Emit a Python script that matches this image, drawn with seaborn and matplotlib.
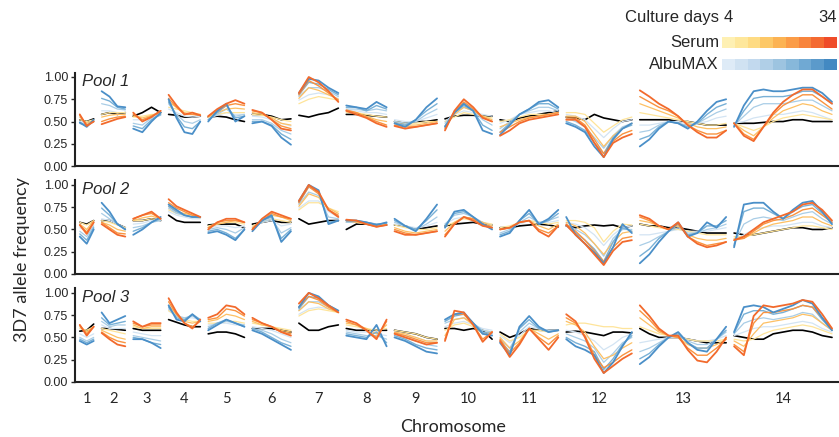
import numpy as np
import pandas as pd
import seaborn as sns
import matplotlib.pyplot as plt
from matplotlib.colors import ListedColormap

# chromosomes of P. falciparum, lengths in Mb
chromosomes = list(range(1, 15))
chrom_length_mb = [0.640, 0.947, 1.067, 1.200, 1.344, 1.418, 1.446,
                   1.473, 1.542, 1.688, 2.039, 2.272, 2.926, 3.292]
culture_days = [4, 14, 24, 34]

# 3D7 allele frequency (%) along each chromosome, one inner list per chromosome
# ---- Pool 1 ----
p1_black = [[52,50,53],[58,60,58,60],[56,60,66,60],[58,57,55,55,56],[55,56,55,52,50],[58,58,56,52,53],[57,55,58,60,65],[58,58,57,56,55],[50,48,50,50,52],[53,56,57,57,56,56],[52,50,54,56,58,60,62],[55,54,52,58,54,52,50,52],[52,52,52,52,50,50,48,46,46,46],[48,48,48,49,50,50,52,52,50,50,50]]
p1_serum_d4 = [[52,50,52],[58,60,60,60],[55,56,58,58],[66,64,62,60,58],[55,58,60,60,60],[58,57,55,52,50],[70,75,78,76,74],[60,60,58,56,55],[50,48,48,50,50],[50,55,60,58,56,54],[50,52,55,58,58,58,60],[60,60,58,48,38,45,52,55],[60,58,56,54,52,50,48,46,46,48],[48,44,40,44,50,54,56,58,56,54,52]]
p1_serum_d14 = [[55,48,51],[55,57,58,58],[56,54,57,60],[72,66,60,58,58],[55,60,64,65,64],[60,58,54,48,46],[76,88,85,80,75],[62,60,56,52,50],[48,46,46,48,50],[45,58,66,62,56,52],[44,48,52,55,56,58,60],[56,56,50,36,22,34,42,48],[70,66,62,58,54,48,44,42,42,44],[48,40,34,44,54,62,66,70,68,62,58]]
p1_serum_d24 = [[57,46,50],[50,53,55,56],[58,52,56,62],[76,66,58,58,57],[56,62,68,70,68],[62,60,52,45,42],[80,96,90,82,74],[63,60,55,50,46],[46,44,44,46,48],[42,60,72,64,55,50],[38,44,50,54,56,58,60],[54,54,46,30,14,28,36,40],[78,72,66,62,56,46,40,36,36,40],[48,36,30,44,58,68,74,80,80,72,64]]
p1_serum_d34 = [[58,45,50],[47,50,53,55],[60,50,55,62],[80,68,58,60,57],[56,64,70,74,70],[63,60,52,42,40],[82,100,94,84,72],[62,58,54,48,44],[45,42,44,46,48],[40,62,75,66,54,50],[34,40,48,52,54,56,58],[52,52,44,26,10,26,32,36],[85,78,70,64,56,46,38,32,32,40],[48,34,28,44,60,72,80,86,86,78,70]]
p1_albu_d4 = [[50,48,51],[62,62,60,60],[52,52,56,57],[64,60,56,55,56],[54,57,60,58,58],[56,55,52,48,45],[74,80,82,80,76],[62,62,60,60,58],[52,50,50,54,58],[50,58,62,60,58,56],[48,52,58,60,62,62,60],[58,56,52,42,32,42,50,52],[46,46,48,50,50,48,48,50,54,56],[48,50,54,56,58,58,60,62,60,56,52]]
p1_albu_d14 = [[49,46,50],[70,68,64,63],[48,46,54,57],[70,58,50,48,52],[52,58,64,56,58],[52,52,48,40,36],[78,88,88,84,78],[64,64,62,64,62],[50,48,50,58,64],[48,60,66,62,52,46],[42,50,58,62,66,66,62],[54,50,44,32,20,34,44,48],[38,40,46,50,48,46,48,54,60,64],[46,56,66,70,70,70,72,74,74,68,62]]
p1_albu_d24 = [[48,45,50],[76,73,66,64],[45,42,52,58],[72,56,44,42,50],[52,60,68,54,56],[50,50,46,36,30],[80,94,92,86,80],[66,66,62,68,64],[48,46,52,62,70],[45,60,68,62,46,40],[38,48,58,64,70,70,64],[50,46,40,26,14,32,42,46],[30,34,44,50,48,44,48,58,66,70],[45,62,76,78,78,78,80,84,84,78,70]]
p1_albu_d34 = [[49,44,52],[84,78,67,66],[42,38,50,60],[75,54,38,36,50],[50,62,70,50,56],[48,50,45,32,24],[82,98,96,88,82],[68,66,64,72,66],[48,44,52,66,76],[44,60,70,62,40,36],[35,46,58,64,72,74,66],[48,44,38,22,10,30,42,48],[22,30,42,50,48,42,50,62,72,75],[44,68,84,86,84,84,86,88,88,82,72]]

# ---- Pool 2 ----
p2_black = [[58,56,60],[60,60,56,52],[60,60,62,60],[66,60,58,58,58],[55,56,56,56,52],[56,58,60,58,58],[62,56,58,60,60],[50,56,56,55,55],[55,54,50,52,54],[54,56,57,58,56,55],[52,52,54,55,56,55,53],[54,52,54,55,54,55,52,54],[56,54,54,52,52,50,48,46,46,46],[46,44,44,46,48,50,52,52,50,50,52]]
p2_serum_d4 = [[58,55,60],[60,58,55,52],[60,60,62,60],[72,68,66,64,63],[54,56,58,58,56],[54,58,62,60,58],[72,80,80,74,70],[58,58,57,55,56],[55,52,50,50,52],[54,58,62,60,58,56],[52,54,58,60,58,56,58],[60,60,58,52,36,48,56,55],[56,54,52,50,50,48,46,44,44,44],[42,42,44,46,48,50,52,54,54,52,50]]
p2_serum_d14 = [[56,50,60],[58,55,50,48],[60,63,65,62],[76,70,68,66,64],[52,56,58,60,58],[52,60,66,64,60],[76,90,86,74,68],[60,58,56,54,56],[52,48,46,48,50],[48,58,64,62,58,54],[50,52,58,60,54,50,56],[58,54,46,34,22,36,46,48],[60,58,54,50,54,44,40,38,38,40],[40,40,46,52,56,58,60,64,64,58,54]]
p2_serum_d24 = [[55,47,58],[58,52,46,45],[62,66,68,62],[80,74,70,66,64],[52,58,60,60,58],[50,60,68,64,62],[80,98,90,72,66],[60,60,56,53,55],[50,46,44,46,48],[44,56,64,62,56,52],[50,52,58,60,50,46,54],[56,48,38,26,14,30,40,42],[64,60,54,50,56,42,36,32,34,36],[38,40,48,56,60,62,66,72,74,66,58]]
p2_serum_d34 = [[55,45,58],[56,50,44,42],[62,66,70,62],[84,76,72,68,64],[50,58,62,62,58],[50,62,70,66,62],[82,100,92,72,64],[61,60,56,53,55],[48,44,44,46,48],[42,56,64,60,54,52],[50,52,58,60,48,42,54],[55,44,34,22,10,26,36,38],[66,62,54,50,58,42,34,30,32,36],[38,42,50,58,62,66,70,78,80,72,60]]
p2_albu_d4 = [[52,48,56],[62,60,56,52],[56,57,60,60],[70,66,64,62,62],[52,54,54,52,54],[54,58,60,54,56],[74,82,82,70,64],[58,58,57,56,56],[56,54,52,54,58],[56,62,64,62,58,55],[50,52,56,60,58,58,60],[58,56,52,44,32,44,52,54],[44,44,46,48,50,48,48,48,50,52],[38,44,50,52,54,54,56,58,58,54,52]]
p2_albu_d14 = [[48,42,54],[68,62,56,50],[52,54,58,60],[74,68,66,64,63],[50,52,50,46,52],[52,58,62,46,52],[78,92,88,64,62],[58,58,58,56,57],[58,54,50,56,64],[56,66,68,64,58,54],[46,50,58,64,58,60,64],[56,50,44,34,20,40,50,50],[32,36,42,48,52,46,46,50,52,56],[34,56,62,64,62,60,64,68,70,62,56]]
p2_albu_d24 = [[45,38,52],[74,66,56,50],[48,52,58,62],[76,70,66,64,64],[48,50,46,40,50],[50,60,64,40,50],[80,98,92,58,60],[60,60,58,56,57],[60,54,50,60,72],[54,68,70,64,56,52],[44,48,60,68,56,60,68],[54,46,38,28,14,36,52,48],[20,28,40,48,56,44,46,54,54,60],[32,70,74,74,68,62,70,76,78,68,58]]
p2_albu_d34 = [[42,34,50],[80,70,56,50],[44,50,58,64],[78,72,66,64,64],[46,48,44,38,50],[48,60,66,36,48],[82,100,94,56,60],[60,60,58,55,58],[62,54,48,62,78],[52,70,72,64,56,50],[42,46,60,72,56,62,72],[64,44,34,24,12,30,56,46],[12,22,36,48,58,42,46,58,52,64],[30,78,80,80,70,62,72,80,82,70,56]]

# ---- Pool 3 ----
p3_black = [[57,58,65],[60,60,59,58],[60,58,58,58],[70,67,64,62,62],[54,56,56,54,50],[60,60,60,58,56],[66,58,58,62,64],[60,58,58,58,58],[58,56,54,50,48],[60,60,58,60,58,48],[56,50,54,60,58,58,58],[56,57,56,54,52,56,56,55],[60,54,50,50,50,48,46,44,44,44],[52,50,48,48,54,56,58,58,56,52,50]]
p3_serum_d4 = [[60,58,62],[60,58,56,54],[62,60,60,60],[80,74,70,68,68],[66,66,68,68,66],[66,64,62,60,58],[74,80,82,80,78],[64,62,60,58,60],[58,56,54,50,48],[58,64,66,62,58,56],[54,46,50,58,58,56,58],[64,66,66,64,62,62,60,60],[62,58,54,52,50,48,46,46,46,48],[48,46,48,54,58,60,62,64,62,58,54]]
p3_serum_d14 = [[62,56,62],[58,54,50,48],[64,60,62,62],[86,76,68,66,68],[68,70,76,74,70],[68,64,62,58,56],[80,90,88,82,78],[66,64,60,54,64],[56,54,50,46,46],[52,70,72,64,54,56],[50,38,46,60,54,48,54],[68,64,56,40,26,30,38,44],[72,64,56,52,50,42,38,38,42,48],[46,40,54,66,68,70,72,76,74,66,58]]
p3_serum_d24 = [[64,54,62],[56,50,46,44],[66,62,64,64],[90,76,66,62,68],[70,72,82,80,74],[70,66,62,56,54],[84,96,92,84,78],[68,64,58,50,68],[55,52,48,44,44],[48,76,76,64,48,56],[48,32,44,60,50,42,52],[72,66,52,30,16,22,30,36],[80,70,58,52,50,38,30,30,38,48],[42,34,66,78,78,80,82,86,84,72,60]]
p3_serum_d34 = [[64,52,62],[55,48,42,40],[68,62,66,66],[94,78,66,60,70],[72,76,86,84,76],[72,66,62,56,52],[88,100,94,86,78],[70,66,58,48,70],[54,50,46,42,44],[46,80,78,64,45,56],[46,28,42,60,48,36,50],[76,68,50,26,10,18,26,32],[86,74,60,52,52,36,24,22,34,50],[40,30,74,86,84,86,88,92,90,76,60]]
p3_albu_d4 = [[54,50,54],[64,60,60,60],[56,54,52,52],[80,74,72,72,70],[64,66,66,64,64],[62,60,58,54,50],[76,82,84,82,80],[58,56,56,54,52],[56,52,50,46,44],[62,66,68,64,60,58],[52,44,52,62,60,58,58],[58,56,52,46,36,42,50,54],[44,46,48,50,50,48,46,46,48,52],[52,56,60,62,62,64,66,68,66,60,56]]
p3_albu_d14 = [[50,46,50],[68,62,64,64],[52,50,48,46],[82,74,72,74,70],[62,66,68,66,64],[60,58,54,48,44],[80,90,90,84,80],[56,54,52,52,48],[54,50,46,42,40],[66,70,72,66,58,56],[48,38,56,66,60,58,58],[54,50,46,38,22,32,44,50],[34,38,44,50,52,46,42,42,48,56],[54,66,70,72,70,72,74,78,76,66,58]]
p3_albu_d24 = [[48,44,48],[72,64,66,68],[50,48,44,42],[84,72,70,76,70],[60,66,70,66,62],[60,56,50,44,40],[82,96,94,86,80],[54,52,50,56,44],[52,48,42,38,36],[68,74,76,66,56,54],[46,34,60,70,60,56,58],[50,44,40,34,14,26,42,52],[26,32,42,50,54,44,38,38,48,58],[55,76,80,80,76,78,82,86,84,70,58]]
p3_albu_d34 = [[46,42,46],[78,66,70,74],[48,48,44,38],[86,70,68,76,68],[58,64,70,66,62],[58,54,48,42,36],[84,100,96,86,80],[52,50,48,64,40],[50,46,40,34,32],[70,76,78,66,54,52],[44,30,62,74,62,56,58],[48,40,36,30,10,22,40,56],[20,28,40,50,56,44,36,34,48,62],[56,84,86,84,78,82,86,92,88,72,58]]

# colours / widths
serum_line_colors = ['#fee49a', '#fdc064', '#f9933f', '#f26a2c']
albu_line_colors = ['#d3e4f3', '#a9cde6', '#78b0d6', '#4a8fc8']
line_widths = [0.9, 0.9, 1.0, 1.3]
serum_blocks = ['#fef0b3', '#fee79b', '#fedb83', '#fdc867', '#fcb353',
                '#fb9c47', '#f8843c', '#f46a31', '#ef4b29']
albu_blocks = ['#deebf7', '#d0e2f2', '#c2d9ee', '#b0cfe7', '#9dc4e0',
               '#87b8da', '#70a9d3', '#5b9acb', '#4389c2']

chrom_gap = 0.05
chrom_trim = 0.10

pools = {
    'Pool 1': [p1_black, [p1_serum_d4, p1_serum_d14, p1_serum_d24, p1_serum_d34],
               [p1_albu_d4, p1_albu_d14, p1_albu_d24, p1_albu_d34]],
    'Pool 2': [p2_black, [p2_serum_d4, p2_serum_d14, p2_serum_d24, p2_serum_d34],
               [p2_albu_d4, p2_albu_d14, p2_albu_d24, p2_albu_d34]],
    'Pool 3': [p3_black, [p3_serum_d4, p3_serum_d14, p3_serum_d24, p3_serum_d34],
               [p3_albu_d4, p3_albu_d14, p3_albu_d24, p3_albu_d34]],
}

lengths = np.array(chrom_length_mb)
chrom_start = np.concatenate([[0], np.cumsum(lengths + chrom_gap)[:-1]])
chrom_center = chrom_start + lengths / 2
x_max = chrom_start[-1] + lengths[-1]


def add_rows(rows, pool, line, chroms):
    for i, vals in enumerate(chroms):
        pos = np.linspace(chrom_start[i] + chrom_trim,
                          chrom_start[i] + lengths[i] - chrom_trim, len(vals))
        for x, v in zip(pos, vals):
            rows.append((pool, line, chromosomes[i], x, v / 100))


rows = []
for pool, (black, serum, albu) in pools.items():
    add_rows(rows, pool, 'Baseline', black)
    for d, s, a in zip(culture_days, serum, albu):
        add_rows(rows, pool, f'Serum {d}', s)
        add_rows(rows, pool, f'AlbuMAX {d}', a)
df = pd.DataFrame(rows, columns=['pool', 'line', 'chrom', 'pos', 'freq'])

# baseline goes underneath, darker days on top
line_order, palette, sizes = ['Baseline'], {'Baseline': 'black'}, {'Baseline': 1.2}
for d, cs, ca, lw in zip(culture_days, serum_line_colors, albu_line_colors, line_widths):
    line_order += [f'AlbuMAX {d}', f'Serum {d}']
    palette[f'AlbuMAX {d}'] = ca
    palette[f'Serum {d}'] = cs
    sizes[f'AlbuMAX {d}'] = lw
    sizes[f'Serum {d}'] = lw

sns.set_style('ticks')
plt.rcParams['font.family'] = ['Liberation Sans', 'DejaVu Sans']

fig = plt.figure(figsize=(8.39, 4.37), dpi=100)
bottoms = [0.620, 0.373, 0.126]

for k, (pool, bottom) in enumerate(zip(pools, bottoms)):
    ax = fig.add_axes([0.0894, bottom, 0.9106, 0.214])
    sns.lineplot(data=df[df.pool == pool], x='pos', y='freq', hue='line',
                 hue_order=line_order, palette=palette, size='line',
                 size_order=line_order, sizes=sizes, units='chrom',
                 estimator=None, legend=False, ax=ax)
    ax.set_xlim(-0.05, x_max + 0.12)
    ax.set_ylim(0, 1.05)
    ax.set_yticks([0, 0.25, 0.5, 0.75, 1.0])
    ax.set_yticklabels(['0.00', '0.25', '0.50', '0.75', '1.00'], fontsize=9)
    ax.set_xlabel('')
    ax.set_ylabel('')
    ax.set_xticks(chrom_center)
    if k == 2:
        ax.set_xticklabels(chromosomes, fontsize=10.5, fontfamily='Lato')
    else:
        ax.set_xticklabels([])
    ax.tick_params(axis='x', length=0, pad=7)
    ax.tick_params(axis='y', length=3, width=1, pad=2)
    sns.despine(ax=ax)
    for sp in ['left', 'bottom']:
        ax.spines[sp].set_linewidth(1.5)
        ax.spines[sp].set_color('#222222')
    ax.text(0.009, 0.9, pool, transform=ax.transAxes, fontsize=12,
            style='italic', va='center', ha='left')

fig.text(0.026, 0.405, '3D7 allele frequency', rotation=90, fontsize=13,
         fontfamily='Lato', ha='center', va='center')
fig.text(0.540, 0.023, 'Chromosome', fontsize=13, fontfamily='Lato',
         ha='center', va='center')

# culture-day colour key
fig.text(0.857, 0.961, 'Culture days', fontsize=12, ha='right', va='center')
fig.text(0.862, 0.961, str(culture_days[0]), fontsize=12, ha='left', va='center')
fig.text(0.997, 0.961, str(culture_days[-1]), fontsize=12, ha='right', va='center')
for label, blocks, yb in [('Serum', serum_blocks, 0.890), ('AlbuMAX', albu_blocks, 0.839)]:
    kax = fig.add_axes([0.8605, yb, 0.137, 0.026])
    kax.imshow(np.arange(len(blocks))[None, :], cmap=ListedColormap(blocks), aspect='auto')
    kax.axis('off')
    fig.text(0.857, yb + 0.013, label, fontsize=12, ha='right', va='center')

fig.savefig('out.png', dpi=100)
